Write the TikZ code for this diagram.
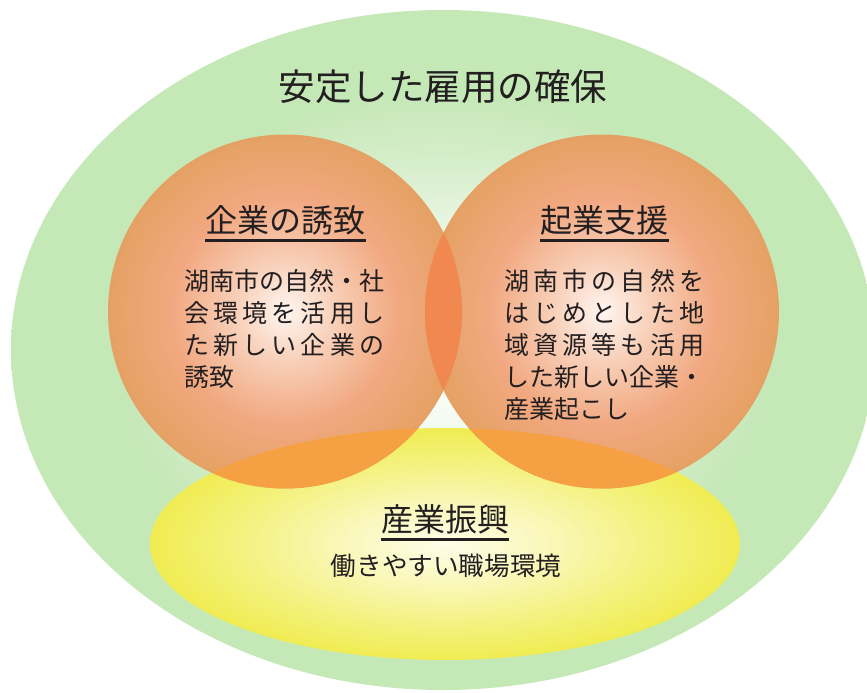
\documentclass[tikz,border=0pt]{standalone}
\usepackage{fontspec}
\setmainfont{Noto Sans CJK JP}
\definecolor{txt}{RGB}{35,31,32}
\definecolor{gedge}{RGB}{197,232,183}
\definecolor{gmid}{RGB}{214,238,203}
\definecolor{gin}{RGB}{240,249,236}
\definecolor{oedge}{RGB}{229,161,100}
\definecolor{omid}{RGB}{241,168,128}
\definecolor{oin}{RGB}{248,208,185}
\definecolor{ocen}{RGB}{255,246,240}
\definecolor{yedge}{RGB}{240,236,82}
\definecolor{ymid}{RGB}{244,242,130}
\definecolor{yin}{RGB}{250,248,190}
\definecolor{ycen}{RGB}{254,253,232}
\definecolor{ovy}{RGB}{245,160,66}
\definecolor{lens}{RGB}{240,136,80}
\pgfdeclareradialshading{greenglow}{\pgfpoint{0bp}{0bp}}{color(0bp)=(white); color(7bp)=(gin); color(14bp)=(gmid); color(19bp)=(gedge); color(25bp)=(gedge); color(50bp)=(gedge)}
\pgfdeclareradialshading{orangeglow}{\pgfpoint{0bp}{0bp}}{color(0bp)=(ocen); color(7bp)=(oin); color(16bp)=(omid); color(25bp)=(oedge); color(50bp)=(oedge)}
\pgfdeclareradialshading{yellowglow}{\pgfpoint{0bp}{0bp}}{color(0bp)=(ycen); color(8bp)=(yin); color(17bp)=(ymid); color(25bp)=(yedge); color(50bp)=(yedge)}
\tikzset{
  ttl/.style={font=\fontsize{36.5}{40}\selectfont, text=txt, inner sep=0pt, anchor=base},
  head/.style={font=\fontsize{32}{36}\selectfont, text=txt, inner sep=0pt, anchor=base},
  body/.style={font=\fontsize{25}{30}\selectfont, text=txt, inner sep=0pt, anchor=base west},
  sub/.style={font=\fontsize{25.6}{30}\selectfont, text=txt, inner sep=0pt, anchor=base},
  uline/.style={draw=txt, line width=3pt}
}
\newcommand{\jl}[1]{\makebox[200pt][s]{#1}}
\begin{document}
\begin{tikzpicture}[x=1pt,y=-1pt]
\useasboundingbox (0,0) rectangle (867,693);
\fill[white] (0,0) rectangle (867,693);
% outer green ellipse
\path[shading=greenglow] (443,350) ellipse [x radius=432pt, y radius=340pt];
% yellow ellipse
\path[shading=yellowglow] (445,544) ellipse [x radius=295pt, y radius=116pt];
% orange circles
\path[shading=orangeglow] (285,311.5) circle [radius=177pt];
\path[shading=orangeglow] (602,311.5) circle [radius=177pt];
% overlap with yellow
\begin{scope}
\clip (445,544) ellipse [x radius=295pt, y radius=116pt];
\fill[ovy] (285,311.5) circle [radius=177pt];
\fill[ovy] (602,311.5) circle [radius=177pt];
\end{scope}
% lens
\begin{scope}
\clip (285,311.5) circle [radius=177pt];
\fill[lens] (602,311.5) circle [radius=177pt];
\end{scope}
% texts
\node[ttl] (title) at (443,100.9) {安定した雇用の確保};
\node[head] (h1) at (285.5,232.2) {企業の誘致};
\draw[uline] ([yshift=-8pt]h1.base west) -- ([yshift=-8pt]h1.base east);
\node[head] (h2) at (604.5,232.2) {起業支援};
\draw[uline] ([yshift=-8pt]h2.base west) -- ([yshift=-8pt]h2.base east);
\node[head] (h3) at (445,531) {産業振興};
\draw[uline] ([yshift=-8pt]h3.base west) -- ([yshift=-8pt]h3.base east);
\node[sub] (s3) at (446,575.7) {働きやすい職場環境};
% left body
\node[body] (l1) at (184,290.5) {\jl{湖\hfill 南\hfill 市\hfill の\hfill 自\hfill 然\hfill ・\hfill 社}};
\node[body] (l2) at (184,322.5) {\jl{会\hfill 環\hfill 境\hfill を\hfill 活\hfill 用\hfill し}};
\node[body] (l3) at (184,354.5) {\jl{た\hfill 新\hfill し\hfill い\hfill 企\hfill 業\hfill の}};
\node[body] (l4) at (184,386.5) {誘致};
% right body
\node[body] (r1) at (504,290.5) {\jl{湖\hfill 南\hfill 市\hfill の\hfill 自\hfill 然\hfill を}};
\node[body] (r2) at (504,322.5) {\jl{は\hfill じ\hfill め\hfill と\hfill し\hfill た\hfill 地}};
\node[body] (r3) at (504,354.5) {\jl{域\hfill 資\hfill 源\hfill 等\hfill も\hfill 活\hfill 用}};
\node[body] (r4) at (504,386.5) {\jl{し\hfill た\hfill 新\hfill し\hfill い\hfill 企\hfill 業\hfill ・}};
\node[body] (r5) at (504,418.5) {産業起こし};
\end{tikzpicture}
\end{document}
